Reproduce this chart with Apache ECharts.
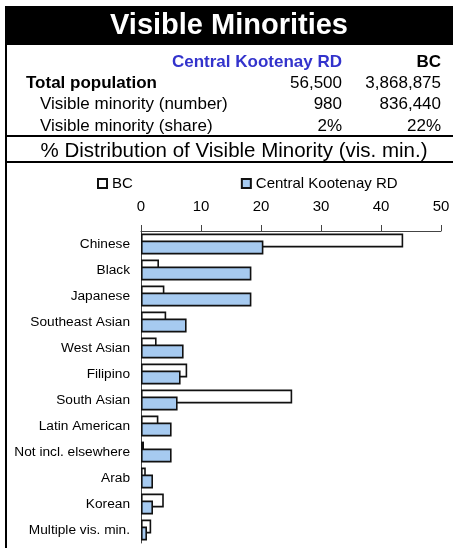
<!DOCTYPE html>
<html>
<head>
<meta charset="utf-8">
<script src="https://cdn.jsdelivr.net/npm/echarts@6/dist/echarts.min.js"></script>
<style>
  html, body { margin: 0; padding: 0; background: #ffffff; }
  #chart { width: 453px; height: 548px; }
</style>
</head>
<body>
<div id="chart"></div>
<script>
// 类别与数值（按图中读数估计）
const categories = ['Chinese', 'Black', 'Japanese', 'Southeast Asian', 'West Asian', 'Filipino',
  'South Asian', 'Latin American', 'Not incl. elsewhere', 'Arab', 'Korean', 'Multiple vis. min.']
const bcValues = [43.7, 3.0, 3.9, 4.2, 2.6, 7.7, 25.2, 2.9, 0.5, 0.8, 3.8, 1.7]
const ckValues = [20.4, 18.4, 18.4, 7.6, 7.1, 6.6, 6.1, 5.1, 5.1, 2.0, 2.0, 1.0]
const xTicks = [0, 10, 20, 30, 40, 50]

// 顶部表格
const regionNames = ['Central Kootenay RD', 'BC']
const rowLabels = ['Total population', 'Visible minority (number)', 'Visible minority (share)']
const ckColumn = ['56,500', '980', '2%']
const bcColumn = ['3,868,875', '836,440', '22%']

const FONT = '"Liberation Sans", Arial, sans-serif'
const chart = echarts.init(document.getElementById('chart'))

function txt(text, x, y, size, opts) {
  opts = opts || {}
  return {
    type: 'text',
    z: 100,
    style: {
      text: text,
      x: x,
      y: y,
      font: (opts.bold ? 'bold ' : '') + size + 'px ' + FONT,
      fill: opts.color || '#000000',
      align: opts.align || 'left',
      verticalAlign: 'middle'
    }
  }
}

const graphics = [
  // 标题黑条
  { type: 'rect', shape: { x: 5, y: 6, width: 448, height: 39 }, style: { fill: '#000000' } },
  txt('Visible Minorities', 229, 26, 29, { bold: true, color: '#ffffff', align: 'center' }),
  // 左边框和分隔线
  { type: 'rect', shape: { x: 5, y: 6, width: 2, height: 542 }, style: { fill: '#000000' } },
  { type: 'rect', shape: { x: 5, y: 135, width: 448, height: 2 }, style: { fill: '#000000' } },
  { type: 'rect', shape: { x: 5, y: 161, width: 448, height: 2 }, style: { fill: '#000000' } },
  txt(regionNames[0], 342, 62, 17, { bold: true, color: '#3333CC', align: 'right' }),
  txt(regionNames[1], 441, 62, 17, { bold: true, align: 'right' }),
  txt('% Distribution of Visible Minority (vis. min.)', 234, 151, 20.5, { align: 'center' })
]

rowLabels.forEach((label, i) => {
  const y = 83 + i * 21.5
  graphics.push(txt(label, i === 0 ? 26 : 40, y, 17, { bold: i === 0 }))
  graphics.push(txt(ckColumn[i], 342, y, 17, { align: 'right' }))
  graphics.push(txt(bcColumn[i], 441, y, 17, { align: 'right' }))
})

const option = {
  animation: false,
  textStyle: { fontFamily: FONT },
  graphic: graphics,
  legend: {
    left: 92,
    top: 171,
    icon: 'rect',
    itemWidth: 9,
    itemHeight: 9,
    itemGap: 108,
    textStyle: { fontSize: 15, color: '#000000', fontFamily: FONT },
    data: ['BC', 'Central Kootenay RD']
  },
  grid: {
    left: 141,
    right: 12,
    top: 231,
    bottom: 5,
    containLabel: false
  },
  xAxis: {
    type: 'value',
    position: 'top',
    min: xTicks[0],
    max: xTicks[xTicks.length - 1],
    interval: 10,
    axisLine: { show: true, lineStyle: { color: '#444444', width: 1 } },
    axisTick: { show: true, length: 6, lineStyle: { color: '#444444' } },
    axisLabel: { fontSize: 15, color: '#000000', margin: 17 },
    splitLine: { show: false }
  },
  yAxis: {
    type: 'category',
    inverse: true,
    data: categories,
    axisLine: { show: true, lineStyle: { color: '#444444', width: 1 } },
    axisTick: { show: false },
    axisLabel: { fontSize: 13.7, color: '#000000', margin: 11 }
  },
  series: [
    {
      name: 'BC',
      type: 'bar',
      data: bcValues,
      barGap: '-50%',
      barCategoryGap: '20%',
      itemStyle: { color: '#ffffff', borderColor: '#111111', borderWidth: 1.6 }
    },
    {
      name: 'Central Kootenay RD',
      type: 'bar',
      data: ckValues,
      barGap: '-50%',
      barCategoryGap: '20%',
      itemStyle: { color: '#A6CAF0', borderColor: '#111111', borderWidth: 1.6 }
    }
  ]
}

chart.setOption(option)
</script>
</body>
</html>
